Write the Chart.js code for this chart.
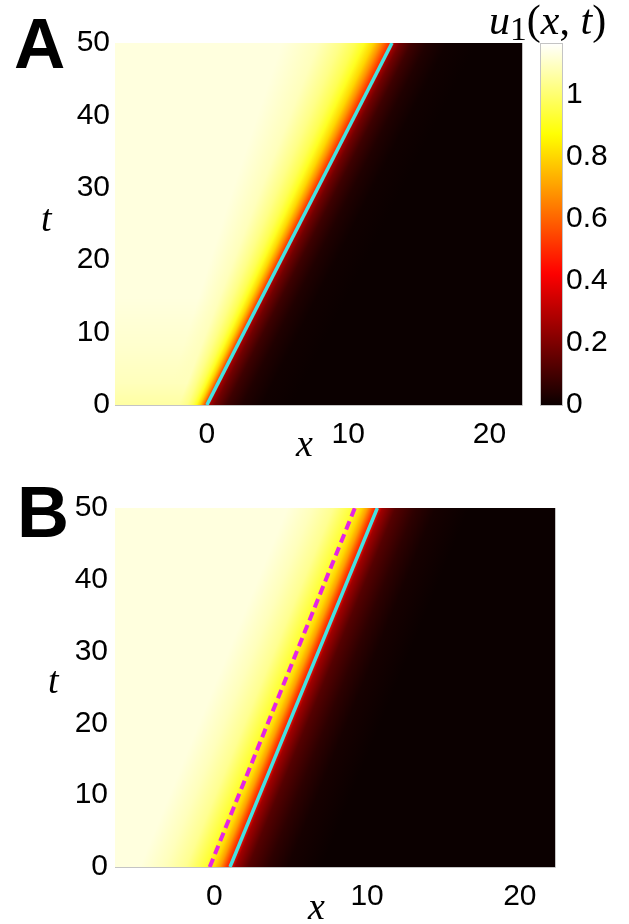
<!DOCTYPE html>
<html>
<head>
<meta charset="utf-8">
<script src="https://cdn.jsdelivr.net/npm/chart.js@4.4.1/dist/chart.umd.min.js"></script>
<style>
  body { margin: 0; background: #fff; width: 629px; height: 924px; position: relative; overflow: hidden; }
  canvas { position: absolute; }
  .lbl { position: absolute; line-height: 1; white-space: nowrap; color: #000; }
  .letter { font-family: "Liberation Sans", Arial, sans-serif; font-weight: bold; }
  .math { font-family: "Liberation Serif", "DejaVu Serif", serif; font-style: italic; }
  .sub { font-style: normal; font-size: 0.8em; position: relative; top: 0.18em; }
  .up { font-style: normal; }
</style>
</head>
<body>
<canvas id="chartA" width="629" height="462" style="left:0;top:0"></canvas>
<canvas id="colorbar" width="99" height="462" style="left:530px;top:0"></canvas>
<canvas id="chartB" width="629" height="462" style="left:0;top:462px"></canvas>

<div class="lbl letter" style="left:14px;top:8px;font-size:71px">A</div>
<div class="lbl letter" style="left:17px;top:476px;font-size:72px">B</div>
<div class="lbl math" style="left:41px;top:199px;font-size:38px">t</div>
<div class="lbl math" style="left:48px;top:661px;font-size:38px">t</div>
<div class="lbl math" style="left:296px;top:424px;font-size:38px">x</div>
<div class="lbl math" style="left:308px;top:887px;font-size:38px">x</div>
<div class="lbl math" style="left:489px;top:-1px;font-size:42px">u<span class="sub">1</span><span class="up">(</span>x<span class="up">, </span>t<span class="up">)</span></div>

<script>
// tick labels
const xTicks = [0, 10, 20];
const tTicks = [0, 10, 20, 30, 40, 50];
const cbTicks = [0, 0.2, 0.4, 0.6, 0.8, 1];
const xMin = -6.5, xMax = 22.3;
const tMin = 0, tMax = 50;
const uMax = 1.168;

// front lines: x at t = 0 and t = 50
const lineT = [0, 50];
const cyanA = [0, 13.1];
const cyanB = [1.03, 10.67];
const dashB = [-0.3, 9.2];

// u1 across the front: distance from the cyan line (x units) -> value
const offsetA = [-8.1, -6.0, -4.0, -2.8, -2.0, -1.5, -1.0, -0.6, -0.2, 0, 0.2, 0.57, 1.4, 2.5, 3.9, 6];
const valueA  = [1.13, 1.13, 1.09, 1.03, 0.97, 0.91, 0.80, 0.68, 0.53, 0.48, 0.26, 0.18, 0.09, 0.037, 0.01, 0];
const offsetB = [-9.3, -5.9, -4.25, -2.9, -1.6, -1.0, -0.65, -0.26, 0, 0.33, 1.2, 2.5, 3.8, 6];
const valueB  = [1.13, 1.13, 1.09, 1.04, 0.93, 0.80, 0.70, 0.53, 0.45, 0.26, 0.13, 0.06, 0.02, 0];

// in A the band behind the front widens with t, and the level behind it is lower near t = 0
const widthT = [0, 15, 30, 50];
const widthA = [0.5, 0.75, 1.0, 1.3];
const plateauT = [0, 3, 8, 15, 50];
const plateauA = [1.06, 1.09, 1.11, 1.13, 1.13];

const tickFont = { family: 'Liberation Sans', size: 30 };

// matlab "hot" colormap
function hot(v) {
  const s = Math.max(0, Math.min(1, v / uMax));
  const i = 1 + s * 63;
  const c = a => Math.round(255 * Math.max(0, Math.min(1, a)));
  return 'rgb(' + c(i / 24) + ',' + c((i - 24) / 24) + ',' + c((i - 48) / 16) + ')';
}

function lookup(ts, vs, t) {
  for (let k = 1; k < ts.length; k++) {
    if (t <= ts[k]) {
      const f = (t - ts[k - 1]) / (ts[k] - ts[k - 1]);
      return vs[k - 1] + f * (vs[k] - vs[k - 1]);
    }
  }
  return vs[vs.length - 1];
}

function heatPlugin(front, offsets, values, withTime) {
  return {
    id: 'heat',
    beforeDatasetsDraw(chart) {
      const { ctx, chartArea: a, scales: { x, y } } = chart;
      ctx.save();
      ctx.beginPath();
      ctx.rect(a.left, a.top, a.right - a.left, a.bottom - a.top);
      ctx.clip();
      for (let py = Math.floor(a.top); py < a.bottom; py++) {
        const t = y.getValueForPixel(py + 0.5);
        const fx = front[0] + (front[1] - front[0]) * (t - lineT[0]) / (lineT[1] - lineT[0]);
        const cap = withTime ? lookup(plateauT, plateauA, t) : Infinity;
        const w = withTime ? lookup(widthT, widthA, t) : 1;
        const pos = offsets.map(o => x.getPixelForValue(fx + (o < 0 ? o * w : o)));
        const p0 = pos[0], p1 = pos[pos.length - 1];
        const g = ctx.createLinearGradient(p0, 0, p1, 0);
        pos.forEach((p, k) => {
          g.addColorStop((p - p0) / (p1 - p0), hot(Math.min(values[k], cap)));
        });
        ctx.fillStyle = g;
        ctx.fillRect(a.left, py, a.right - a.left, 1);
      }
      ctx.restore();
    },
    afterDatasetsDraw(chart) {
      const { ctx, chartArea: a } = chart;
      ctx.save();
      ctx.strokeStyle = '#c4c4c4';
      ctx.lineWidth = 1;
      ctx.beginPath();
      ctx.moveTo(a.left, a.bottom + 0.5);
      ctx.lineTo(a.right + 0.5, a.bottom + 0.5);
      ctx.lineTo(a.right + 0.5, a.top);
      ctx.stroke();
      ctx.restore();
    }
  };
}

function lineData(xs) {
  return xs.map((v, i) => ({ x: v, y: lineT[i] }));
}

function makePanel(id, padTop, padRight, labelPad, datasets, plugin) {
  return new Chart(document.getElementById(id), {
    type: 'scatter',
    data: { datasets: datasets },
    options: {
      responsive: false,
      animation: false,
      events: [],
      layout: { padding: { left: 0, top: padTop, right: padRight, bottom: 0 } },
      plugins: { legend: { display: false }, tooltip: { enabled: false } },
      scales: {
        x: {
          type: 'linear', min: xMin, max: xMax,
          grid: { display: false, drawTicks: false },
          border: { display: false },
          ticks: { font: tickFont, color: '#000', padding: 12, autoSkip: false, maxRotation: 0, callback: v => String(v) },
          afterBuildTicks: s => { s.ticks = xTicks.map(v => ({ value: v })); },
          afterFit: s => { s.height = 57; }
        },
        y: {
          type: 'linear', min: tMin, max: tMax,
          grid: { display: false, drawTicks: false },
          border: { display: false },
          ticks: { font: tickFont, color: '#000', padding: labelPad, autoSkip: false, callback: v => String(v) },
          afterBuildTicks: s => { s.ticks = tTicks.map(v => ({ value: v })); },
          afterFit: s => { s.width = 115; }
        }
      }
    },
    plugins: [plugin]
  });
}

const cyanStyle = { borderColor: '#44e2e2', borderWidth: 3.5, showLine: true, pointRadius: 0, fill: false };

makePanel('chartA', 43, 107, 5,
  [Object.assign({ label: 'front', data: lineData(cyanA) }, cyanStyle)],
  heatPlugin(cyanA, offsetA, valueA, true));

makePanel('chartB', 46, 74, 7,
  [
    Object.assign({ label: 'dashed', data: lineData(dashB) }, cyanStyle,
      { borderColor: '#e424e4', borderWidth: 4, borderDash: [9, 5] }),
    Object.assign({ label: 'front', data: lineData(cyanB) }, cyanStyle)
  ],
  heatPlugin(cyanB, offsetB, valueB, false));

// colorbar
new Chart(document.getElementById('colorbar'), {
  type: 'scatter',
  data: { datasets: [] },
  options: {
    responsive: false,
    animation: false,
    events: [],
    layout: { padding: { left: 10, top: 43, right: 0, bottom: 57 } },
    plugins: { legend: { display: false }, tooltip: { enabled: false } },
    scales: {
      x: { display: false, min: 0, max: 1 },
      y: {
        position: 'right', min: 0, max: uMax,
        grid: { display: false, drawTicks: false },
        border: { display: false },
        ticks: { font: tickFont, color: '#000', padding: 3, autoSkip: false, callback: v => String(v) },
        afterBuildTicks: s => { s.ticks = cbTicks.map(v => ({ value: v })); },
        afterFit: s => { s.width = 66; }
      }
    }
  },
  plugins: [{
    id: 'cbar',
    beforeDraw(chart) {
      const { ctx, chartArea: a, scales: { y } } = chart;
      const g = ctx.createLinearGradient(0, y.getPixelForValue(0), 0, y.getPixelForValue(uMax));
      for (let k = 0; k <= 64; k++) g.addColorStop(k / 64, hot(uMax * k / 64));
      ctx.save();
      ctx.fillStyle = g;
      ctx.fillRect(a.left, a.top, a.right - a.left, a.bottom - a.top);
      ctx.strokeStyle = '#c4c4c4';
      ctx.lineWidth = 1;
      ctx.strokeRect(a.left + 0.5, a.top + 0.5, a.right - a.left - 1, a.bottom - a.top);
      ctx.restore();
    }
  }]
});
</script>
</body>
</html>
